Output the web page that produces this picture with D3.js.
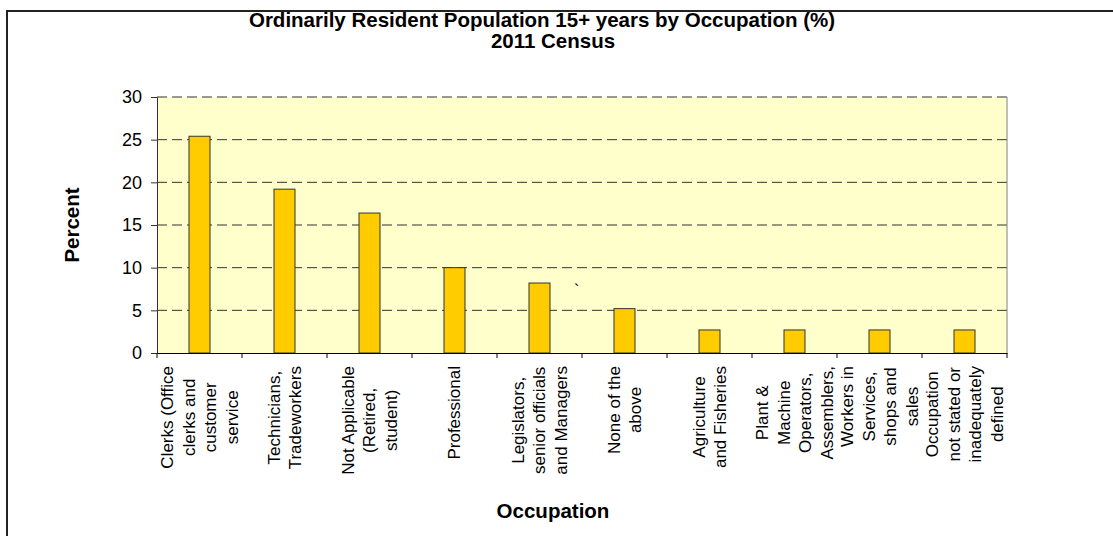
<!DOCTYPE html>
<html lang="en">
<head>
<meta charset="utf-8">
<title>Occupation 2011 Census</title>
<script src="https://cdn.jsdelivr.net/npm/d3@7"></script>
<style>
  body { margin: 0; background: #fff; }
  svg { display: block; }
  text { font-family: "Liberation Sans", Arial, sans-serif; }
</style>
</head>
<body>
<div id="chart"></div>
<script>
// data
var categories = ["Clerks", "Technicians", "Not Applicable", "Professional", "Legislators",
                  "None of the above", "Agriculture", "Plant", "Workers", "Not stated"];
var values = [25.4, 19.2, 16.4, 10.0, 8.2, 5.2, 2.7, 2.7, 2.7, 2.7];
var labelLines = [
  ["Clerks (Office", "clerks and", "customer", "service"],
  ["Technicians,", "Tradeworkers"],
  ["Not Applicable", "(Retired,", "student)"],
  ["Professional"],
  ["Legislators,", "senior officials", "and Managers"],
  ["None of the", "above"],
  ["Agriculture", "and Fisheries"],
  ["Plant &", "Machine", "Operators,", "Assemblers,"],
  ["Workers in", "Services,", "shops and", "sales"],
  ["Occupation", "not stated or", "inadequately", "defined"]
];
var yTicks = [0, 5, 10, 15, 20, 25, 30];

var width = 1113, height = 536;
// plot box (note: "top" is reserved on window, so use pTop etc.)
var pLeft = 157, pRight = 1007, pTop = 97, pBottom = 353;

var svg = d3.select("#chart").append("svg")
    .attr("width", width)
    .attr("height", height);

// caption line cut off at the top of the page, only descenders show
svg.append("text")
    .attr("x", 140).attr("y", -5)
    .attr("textLength", 850)
    .attr("lengthAdjust", "spacing")
    .style("font-family", "'Liberation Serif', 'Times New Roman', serif")
    .style("font-style", "italic")
    .style("font-size", "22px")
    .text("Figure 5.4: Distribution of ordinarily resident population by type of occupation");

// outer chart frame (runs off the right and bottom edges)
svg.append("rect")
    .attr("x", 7).attr("y", 11)
    .attr("width", 1200).attr("height", 600)
    .attr("fill", "none")
    .attr("stroke", "#222")
    .attr("stroke-width", 2);

// titles
svg.append("text")
    .attr("x", 542).attr("y", 27)
    .attr("text-anchor", "middle")
    .style("font-size", "20.5px").style("font-weight", "bold")
    .text("Ordinarily Resident Population 15+ years by Occupation (%)");
svg.append("text")
    .attr("x", 553).attr("y", 48)
    .attr("text-anchor", "middle")
    .style("font-size", "20.5px").style("font-weight", "bold")
    .text("2011 Census");

var x = d3.scaleBand().domain(categories).range([pLeft, pRight]).padding(0);
var y = d3.scaleLinear().domain([0, 30]).range([pBottom, pTop]);

// plot area
svg.append("rect")
    .attr("x", pLeft).attr("y", pTop)
    .attr("width", pRight - pLeft).attr("height", pBottom - pTop)
    .attr("fill", "#FFFFCC");

// gridlines
svg.append("g").selectAll("line")
    .data(yTicks.filter(function(d) { return d > 0; }))
    .join("line")
    .attr("x1", pLeft).attr("x2", pRight)
    .attr("y1", function(d) { return y(d); })
    .attr("y2", function(d) { return y(d); })
    .attr("stroke", "#333")
    .attr("stroke-dasharray", "10,5");

// right border of plot
svg.append("line")
    .attr("x1", pRight).attr("x2", pRight)
    .attr("y1", pTop).attr("y2", pBottom)
    .attr("stroke", "#808080");

// bars
var bw = 21;
svg.append("g").selectAll("rect")
    .data(values)
    .join("rect")
    .attr("x", function(d, i) { return x(categories[i]) + x.bandwidth() / 2 - bw / 2; })
    .attr("y", function(d) { return y(d); })
    .attr("width", bw)
    .attr("height", function(d) { return y(0) - y(d); })
    .attr("fill", "#FFCC00")
    .attr("stroke", "#333")
    .attr("stroke-width", 1);

// y axis
var yAxis = svg.append("g")
    .attr("transform", "translate(" + pLeft + ",0)")
    .call(d3.axisLeft(y).tickValues(yTicks).tickSize(6).tickPadding(9));
yAxis.select(".domain").attr("stroke", "#333");
yAxis.selectAll(".tick line").attr("stroke", "#333");
yAxis.selectAll(".tick text")
    .style("font-size", "18px")
    .style("font-family", "'Liberation Sans', Arial, sans-serif")
    .attr("fill", "#000");

// x axis: ticks at category boundaries
var xAxis = svg.append("g")
    .attr("transform", "translate(0," + pBottom + ")")
    .call(d3.axisBottom(x).tickSize(0).tickFormat(""));
xAxis.select(".domain").attr("stroke", "#000");
var bounds = categories.map(function(c) { return x(c); }).concat([pRight]);
xAxis.selectAll(".bound")
    .data(bounds)
    .join("line")
    .attr("class", "bound")
    .attr("x1", function(d) { return d; }).attr("x2", function(d) { return d; })
    .attr("y1", 0).attr("y2", 5)
    .attr("stroke", "#000");

// rotated multi-line category labels
var lineGap = 21.5;
var labels = svg.append("g").selectAll("g")
    .data(labelLines)
    .join("g")
    .attr("transform", function(d, i) {
      return "translate(" + (x(categories[i]) + x.bandwidth() / 2) + ",366) rotate(-90)";
    });
labels.each(function(lines) {
  var g = d3.select(this);
  var texts = g.selectAll("text")
      .data(lines)
      .join("text")
      .attr("text-anchor", "middle")
      .attr("dy", "0.35em")
      .attr("y", function(d, j) { return (j - (lines.length - 1) / 2) * lineGap; })
      .style("font-size", "17px")
      .text(function(d) { return d; });
  var maxW = 0;
  texts.each(function() { maxW = Math.max(maxW, this.getComputedTextLength()); });
  texts.attr("x", -maxW / 2);
});

// stray mark in the plot
svg.append("text")
    .attr("x", 574).attr("y", 296)
    .style("font-size", "16px")
    .text("`");

// axis titles
svg.append("text")
    .attr("transform", "translate(79,225) rotate(-90)")
    .attr("text-anchor", "middle")
    .style("font-size", "20.5px").style("font-weight", "bold")
    .text("Percent");
svg.append("text")
    .attr("x", 553).attr("y", 518)
    .attr("text-anchor", "middle")
    .style("font-size", "20.5px").style("font-weight", "bold")
    .text("Occupation");
</script>
</body>
</html>
